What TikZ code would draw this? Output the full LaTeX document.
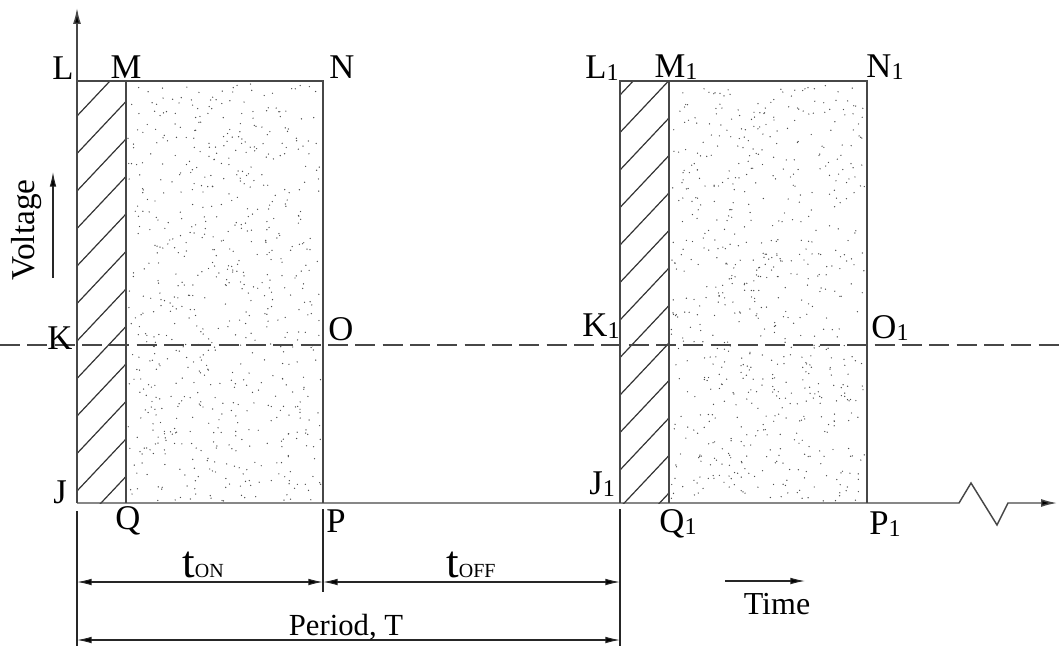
\documentclass[tikz,border=0pt]{standalone}
\usepackage{fontspec}
\setmainfont{Liberation Serif}
\usetikzlibrary{arrows.meta}
\newcommand\lsub[1]{{\fontsize{18}{20}\selectfont\raisebox{-1.5pt}{#1}}}
\begin{document}
\begin{tikzpicture}[x=0.75pt,y=-0.75pt,
  heavy/.style={draw=black!72,line width=1.1pt},
  light/.style={draw=black!85,line width=0.8pt},
  lbl/.style={font=\fontsize{26}{30}\selectfont,inner sep=0pt},
  dimarrow/.style={light,{Latex[length=11pt,width=5pt,fill=black]}-{Latex[length=11pt,width=5pt,fill=black]}},
  onearrow/.style={light,-{Latex[length=11pt,width=5pt,fill=black]}},
  axisarrow/.style={heavy,-{Latex[length=12pt,width=6pt,fill=black]}},
  dot/.style={fill=black!70},
  hatch/.style={draw=black!80,line width=0.9pt},
]
\useasboundingbox (0,0) rectangle (1059,649);

% key points
\coordinate (J0) at (77,503);
\coordinate (Ytop) at (77,8);
\coordinate (L0) at (77,81);
\coordinate (M0) at (126,81);
\coordinate (N0) at (323,81);
\coordinate (Q0) at (126,503);
\coordinate (P0) at (323,503);
\coordinate (L1) at (620,81);
\coordinate (M1) at (669,81);
\coordinate (N1) at (867,81);
\coordinate (J1) at (620,503);
\coordinate (Q1) at (669,503);
\coordinate (P1) at (867,503);
\coordinate (Z0) at (959,503);
\coordinate (Z1) at (971,483);
\coordinate (Z2) at (997,525);
\coordinate (Z3) at (1008,503);
\coordinate (Xend) at (1057,503);
\coordinate (D0) at (0,345);
\coordinate (D1) at (1059,345);

% stipple
\pgfmathsetseed{7}
\foreach \i in {1,...,700}{
  \pgfmathsetmacro\xx{128+193*rnd}
  \pgfmathsetmacro\yy{84+417*rnd}
  \fill[dot] (\xx,\yy) circle (0.7);
}
\foreach \i in {1,...,700}{
  \pgfmathsetmacro\xx{671+194*rnd}
  \pgfmathsetmacro\yy{84+417*rnd}
  \fill[dot] (\xx,\yy) circle (0.7);
}

% hatch
\begin{scope}
  \clip (L0) rectangle (Q0);
  \foreach \k in {-1,...,12} \draw[hatch] (77,{116+37.5*\k}) -- ++(49,-52);
\end{scope}
\begin{scope}
  \clip (L1) rectangle (Q1);
  \foreach \k in {-1,...,12} \draw[hatch] (620,{95+37.5*\k}) -- ++(49,-52);
\end{scope}

% pulses
\draw[heavy] (L0) -- (N0) -- (P0);
\draw[heavy] (M0) -- (Q0);
\draw[heavy] (J1) -- (L1) -- (N1) -- (P1);
\draw[heavy] (M1) -- (Q1);

% axes
\draw[axisarrow] (J0) -- (Ytop);
\draw[axisarrow] (J0) -- (Z0) -- (Z1) -- (Z2) -- (Z3) -- (Xend);

% dashed level
\draw[heavy,dash pattern=on 15pt off 5.5pt] (D0) -- (D1);

% dimension lines
\coordinate (E0a) at (77,511);  \coordinate (E0b) at (77,646);
\coordinate (E1a) at (323,509); \coordinate (E1b) at (323,592);
\coordinate (E2a) at (620,509); \coordinate (E2b) at (620,646);
\draw[light] (E0a) -- (E0b);
\draw[light] (E1a) -- (E1b);
\draw[light] (E2a) -- (E2b);
\coordinate (T0) at (77,582);  \coordinate (T1) at (323,582); \coordinate (T2) at (620,582);
\coordinate (R0) at (77,640);  \coordinate (R1) at (620,640);
\draw[dimarrow] (T0) -- (T1);
\draw[dimarrow] (T1) -- (T2);
\draw[dimarrow] (R0) -- (R1);

% direction arrows
\coordinate (V0) at (53,278); \coordinate (V1) at (53,172);
\draw[onearrow] (V0) -- (V1);
\coordinate (W0) at (725,581); \coordinate (W1) at (805,581);
\draw[onearrow] (W0) -- (W1);

% labels
\node[lbl] (lL) at (63,68) {L};
\node[lbl] (lM) at (126,67) {M};
\node[lbl] (lN) at (342,67) {N};
\node[lbl] (lK) at (60,338) {K};
\node[lbl] (lO) at (341,329) {O};
\node[lbl] (lJ) at (60,492) {J};
\node[lbl] (lQ) at (128,521) {Q};
\node[lbl] (lP) at (336,521) {P};
\node[lbl] (lL1) at (602,68) {L\lsub{1}};
\node[lbl] (lM1) at (676,67) {M\lsub{1}};
\node[lbl] (lN1) at (885,67) {N\lsub{1}};
\node[lbl] (lK1) at (601,326) {K\lsub{1}};
\node[lbl] (lO1) at (890,328) {O\lsub{1}};
\node[lbl] (lJ1) at (602,484) {J\lsub{1}};
\node[lbl] (lQ1) at (678,524) {Q\lsub{1}};
\node[lbl] (lP1) at (885,524) {P\lsub{1}};

\node[inner sep=0pt,anchor=base west] (ton) at (182,577)
  {\fontsize{34}{36}\selectfont t\fontsize{15}{17}\selectfont ON};
\node[inner sep=0pt,anchor=base west] (toff) at (446,577)
  {\fontsize{34}{36}\selectfont t\fontsize{15}{17}\selectfont OFF};
\node[inner sep=0pt,font=\fontsize{23}{26}\selectfont] (per) at (346,627) {Period, T};
\node[inner sep=0pt,font=\fontsize{24}{26}\selectfont] (time) at (777,604) {Time};
\node[inner sep=0pt,font=\fontsize{25}{28}\selectfont,rotate=90] (volt) at (27,230) {Voltage};
\end{tikzpicture}
\end{document}
